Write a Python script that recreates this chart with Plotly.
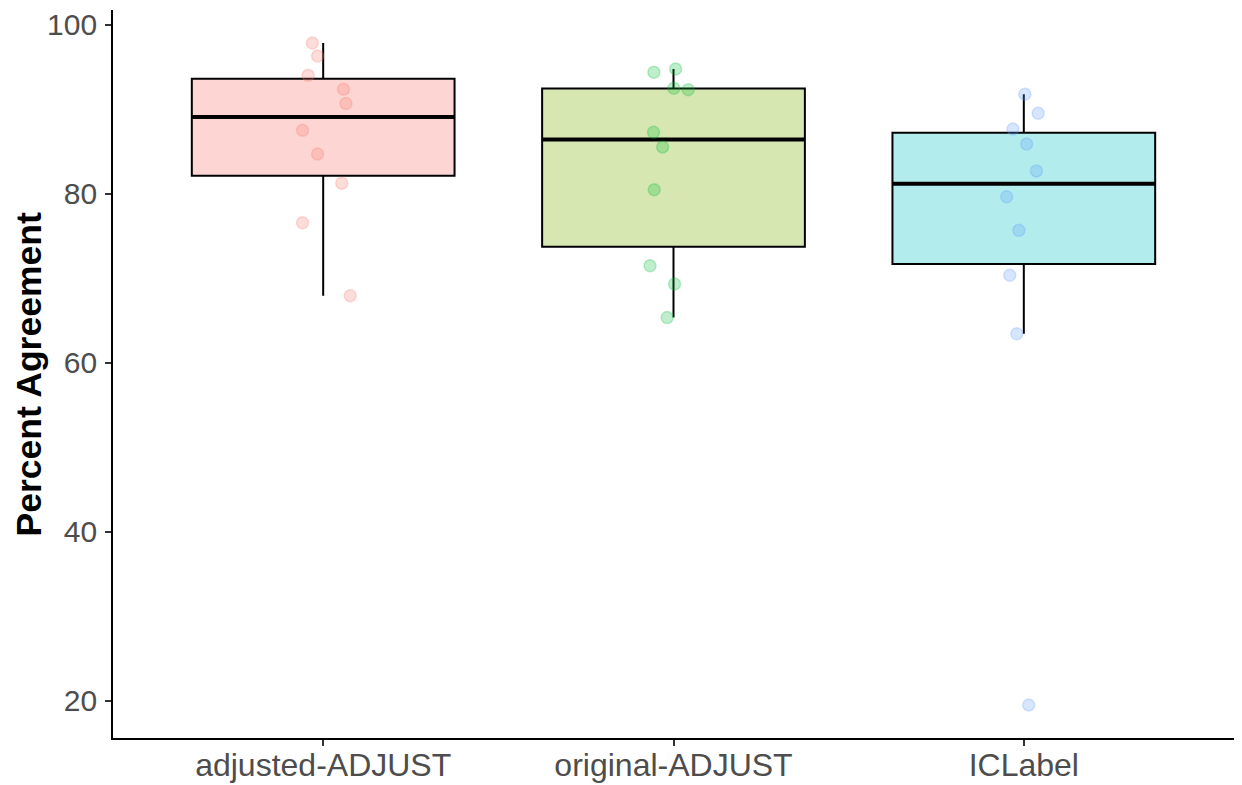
import numpy as np
import plotly.graph_objects as go

categories = ["adjusted-ADJUST", "original-ADJUST", "ICLabel"]

adjusted_adjust = [97.85, 96.31, 94.03, 92.38, 90.69, 87.53, 84.73, 81.27, 76.58, 67.95]
original_adjust = [94.39, 94.78, 92.50, 92.34, 87.30, 85.56, 80.48, 71.50, 69.34, 65.35]
iclabel = [91.79, 89.54, 87.69, 85.91, 82.72, 79.65, 75.68, 70.36, 63.43, 19.50]

# horizontal jitter offsets (category units)
jitter_adjusted = [-0.031, -0.016, -0.043, 0.058, 0.065, -0.059, -0.016, 0.053, -0.059, 0.077]
jitter_original = [-0.056, 0.006, 0.001, 0.042, -0.057, -0.031, -0.055, -0.067, 0.003, -0.018]
jitter_iclabel = [0.003, 0.041, -0.031, 0.008, 0.036, -0.049, -0.014, -0.040, -0.020, 0.014]

y_ticks = [20, 40, 60, 80, 100]

series = [adjusted_adjust, original_adjust, iclabel]
jitters = [jitter_adjusted, jitter_original, jitter_iclabel]
box_fills = ["rgba(248,118,109,0.3)", "rgba(124,174,0,0.3)", "rgba(0,191,196,0.3)"]
point_cols = ["rgba(248,118,109,0.25)", "rgba(0,186,56,0.25)", "rgba(97,156,255,0.25)"]

BOX_W = 0.75

fig = go.Figure()

for i, vals in enumerate(series):
    v = np.array(vals)
    q1, med, q3 = np.percentile(v, [25, 50, 75])
    iqr = q3 - q1
    lo = v[v >= q1 - 1.5 * iqr].min()
    hi = v[v <= q3 + 1.5 * iqr].max()
    fig.add_trace(go.Box(
        x=[i], q1=[q1], median=[med], q3=[q3], lowerfence=[lo], upperfence=[hi],
        width=BOX_W, fillcolor=box_fills[i], line=dict(color="black", width=2),
        whiskerwidth=0, boxpoints=False, hoverinfo="skip", showlegend=False,
    ))
    fig.add_trace(go.Scatter(
        x=[i - BOX_W / 2, i + BOX_W / 2], y=[med, med], mode="lines",
        line=dict(color="black", width=4), hoverinfo="skip", showlegend=False,
    ))

for i, vals in enumerate(series):
    xs = [i + j for j in jitters[i]]
    fig.add_trace(go.Scatter(
        x=xs, y=vals, mode="markers",
        marker=dict(size=12, color=point_cols[i], line=dict(width=1.5, color=point_cols[i])),
        hoverinfo="skip", showlegend=False,
    ))

all_vals = np.concatenate([np.array(s) for s in series])
span = all_vals.max() - all_vals.min()
y_range = [all_vals.min() - 0.05 * span, all_vals.max() + 0.05 * span]

fig.update_layout(
    width=1226, height=777,
    margin=dict(l=105, r=0, t=2, b=47),
    paper_bgcolor="white", plot_bgcolor="white",
    font=dict(family="Liberation Sans, Arial, sans-serif"),
    xaxis=dict(
        range=[-0.6, 2.6], tickmode="array", tickvals=[0, 1, 2], ticktext=categories,
        showgrid=False, zeroline=False, showline=True, linecolor="black", linewidth=1.8,
        ticks="outside", ticklen=6, tickwidth=1.8, tickcolor="#333333",
        tickfont=dict(size=32, color="#4D4D4D"), automargin=False,
        ticklabelstandoff=-8,
    ),
    yaxis=dict(
        range=y_range, tickmode="array", tickvals=y_ticks,
        showgrid=False, zeroline=False, showline=True, linecolor="black", linewidth=1.8,
        ticks="outside", ticklen=6, tickwidth=1.8, tickcolor="#333333",
        tickfont=dict(size=30, color="#4D4D4D"), automargin=False,
        ticklabelstandoff=2,
    ),
    annotations=[dict(
        text="<b>Percent Agreement</b>", textangle=-90, xref="paper", yref="paper",
        x=-0.0745, y=0.5, xanchor="center", yanchor="middle", showarrow=False,
        font=dict(size=35.5, color="black"),
    )],
)

fig.write_html("out.html")
